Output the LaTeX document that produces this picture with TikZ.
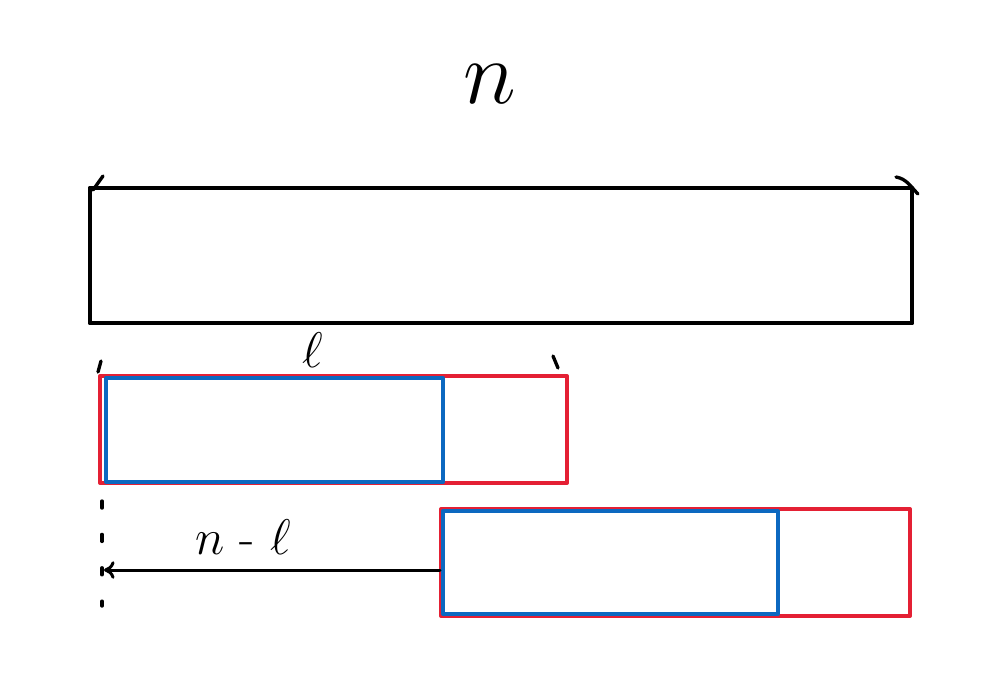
\documentclass[tikz,border=0pt]{standalone}
\usetikzlibrary{arrows.meta}

\definecolor{penred}{RGB}{228,32,52}
\definecolor{penblue}{RGB}{12,104,192}

\tikzset{
    whole/.style={draw=black, line width=2.8pt},
    outer/.style={draw=penred, line width=2.3pt},
    inner/.style={draw=penblue, line width=2.3pt},
    tick/.style={black, line width=1.9pt},
    label/.style={font=\LARGE, scale=1.65},
}

\begin{document}
\begin{tikzpicture}[x=0.02cm, y=-0.02cm, line cap=round, line join=round]
\useasboundingbox (0,0) rectangle (1006,674);

% the whole string of length n
\draw[whole] (90,188) rectangle (912,323);
\draw[tick] (93,190) -- (103,176);
\draw[tick] (896,177) to[out=-10,in=135] (918,194);
\node[label, scale=1.8] (n) at (490,84) {$n$};

% first window of length l
\draw[outer] (100,376) rectangle (567,483);
\draw[inner] (106,378) rectangle (443,482);
\draw[tick] (98,372) -- (101,361);
\draw[tick] (553,356) -- (558,368);
\node[label] (l) at (313,350) {$\ell$};

% shifted window
\draw[outer] (441,509) rectangle (910,616);
\draw[inner] (443,511) rectangle (778,614);

% the shift n - l
\draw[tick, dash pattern=on 4pt off 15pt] (102,501) -- (102,606);
\coordinate (from) at (440,570);
\coordinate (to) at (104,570);
\draw[line width=1.7pt, -{To[length=6pt,width=10pt]}] (from) -- (to);
\node[label] (nl) at (243,537) {$n$ - $\ell$};

\end{tikzpicture}
\end{document}
